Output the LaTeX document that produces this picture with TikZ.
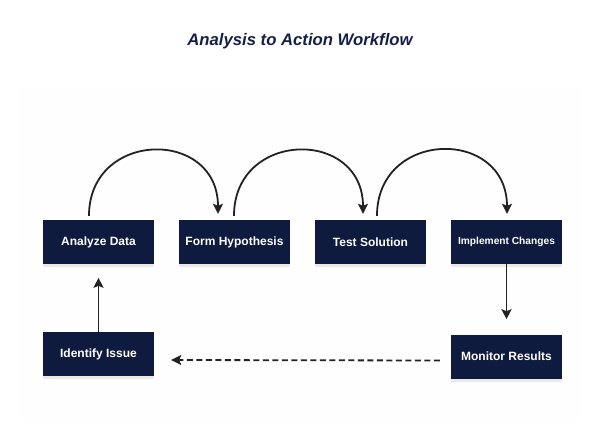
\documentclass[tikz,border=0pt]{standalone}
\usepackage{fontspec}
\setmainfont{Liberation Sans}
\usetikzlibrary{arrows.meta,shadows,calc}
\definecolor{navy}{HTML}{0E1A3E}
\definecolor{titlec}{HTML}{15204A}
\definecolor{linec}{HTML}{222222}
\definecolor{panel}{HTML}{FEFEFE}
\tikzset{
  stepbox/.style={draw=none, fill=navy, minimum width=111pt, minimum height=44pt,
    inner sep=0pt, text=white, font=\bfseries\fontsize{12}{14}\selectfont,
    drop shadow={shadow xshift=0pt, shadow yshift=-3pt, opacity=0.08, fill=black}},
  conn/.style={draw=linec, line width=1.8pt, -{Stealth[length=10pt,width=10pt,inset=2pt]}},
  arc/.style={conn, out=90, in=90, looseness=1.7}
}
\begin{document}
\begin{tikzpicture}[x=1pt,y=-1pt]
\useasboundingbox (0,0) rectangle (600,426);
\fill[white] (0,0) rectangle (600,426);
\fill[panel] (20,89) rectangle (580,422);
\node[font=\bfseries\itshape\fontsize{16.7}{19}\selectfont, text=titlec] (title) at (300,41) {Analysis to Action Workflow};
\node[stepbox] (adata) at (98.5,242) {Analyze Data};
\node[stepbox] (form) at (234.5,242) {Form Hypothesis};
\node[stepbox] (test) at (370.5,242) {Test Solution};
\node[stepbox, font=\bfseries\fontsize{10.2}{12}\selectfont] (impl) at (506.5,242) {Implement Changes};
\node[stepbox] (ident) at (98.5,354) {Identify Issue};
\node[stepbox] (mon) at (506.5,356.5) {Monitor Results};
\draw[arc] ($(adata.north)+(-9.5,-4)$) to ($(form.north)+(-16.5,-6)$);
\draw[arc] ($(form.north)+(-0.5,-4)$) to ($(test.north)+(-7.5,-6)$);
\draw[arc] ($(test.north)+(6.5,-4)$) to ($(impl.north)+(0.5,-6)$);
\draw[conn] (impl.south) -- ($(impl.south)+(0,55)$);
\draw[conn] (ident.north) -- ($(ident.north)+(0,-54)$);
\draw[conn, dash pattern=on 6pt off 3.5pt] ($(mon.west)+(-11,4)$) -- ($(ident.east)+(17,6)$);
\end{tikzpicture}
\end{document}
